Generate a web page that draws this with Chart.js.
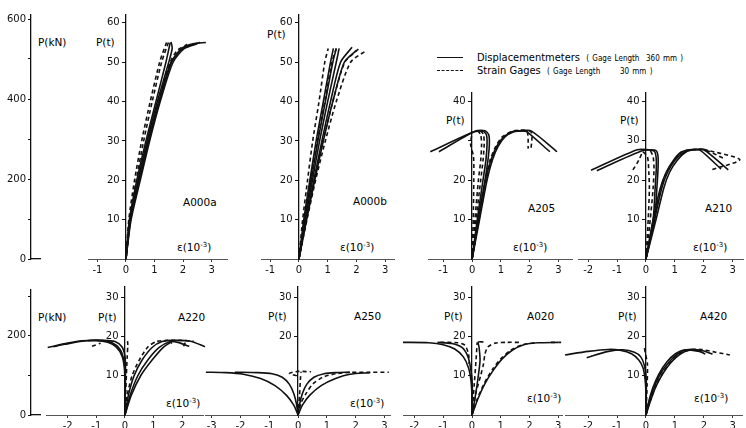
<!DOCTYPE html>
<html>
<head>
<meta charset="utf-8">
<script src="https://cdn.jsdelivr.net/npm/chart.js@4.4.0/dist/chart.umd.min.js"></script>
<style>
  body { margin: 0; background: #fff; }
  #page { position: relative; width: 746px; height: 428px; overflow: hidden; font-family: "DejaVu Sans", sans-serif; color: #000; }
  #page canvas { position: absolute; left: 0; top: 0; }
  .t { position: absolute; font-size: 10.5px; line-height: 1; white-space: nowrap; }
  .t sup { font-size: 7px; vertical-align: 4px; }
  .lg { position: absolute; font-family: "DejaVu Sans Condensed", "DejaVu Sans", sans-serif; font-size: 11px; line-height: 1; white-space: nowrap; }
  .lg small { font-size: 8px; word-spacing: 1px; }
  .key { position: absolute; width: 26px; height: 0; border-top: 1.5px solid #111; }
  .key.dash { border-top-style: dashed; }
</style>
</head>
<body>
<div id="page">
  <div class="key" style="left:437px;top:57px"></div>
  <div class="lg" style="left:477px;top:52px">Displacementmeters &nbsp;<small>( Gage Length &nbsp;360 mm )</small></div>
  <div class="key dash" style="left:437px;top:70px"></div>
  <div class="lg" style="left:477px;top:65px">Strain Gages &nbsp;<small>( Gage Length &nbsp;&nbsp;&nbsp;&nbsp; 30 mm )</small></div>

  <div class="t" style="left:38px;top:37px">P(kN)</div>
  <div class="t" style="left:96px;top:37px">P(t)</div>
  <div class="t" style="left:183px;top:197px">A000a</div>
  <div class="t" style="left:177px;top:242px">ε(10<sup>-3</sup>)</div>

  <div class="t" style="left:267px;top:29px">P(t)</div>
  <div class="t" style="left:353px;top:196px">A000b</div>
  <div class="t" style="left:340px;top:242px">ε(10<sup>-3</sup>)</div>

  <div class="t" style="left:446px;top:115px">P(t)</div>
  <div class="t" style="left:528px;top:203px">A205</div>
  <div class="t" style="left:513px;top:242px">ε(10<sup>-3</sup>)</div>

  <div class="t" style="left:620px;top:115px">P(t)</div>
  <div class="t" style="left:705px;top:203px">A210</div>
  <div class="t" style="left:693px;top:242px">ε(10<sup>-3</sup>)</div>

  <div class="t" style="left:38px;top:312px">P(kN)</div>
  <div class="t" style="left:98px;top:312px">P(t)</div>
  <div class="t" style="left:178px;top:312px">A220</div>
  <div class="t" style="left:166px;top:398px">ε(10<sup>-3</sup>)</div>

  <div class="t" style="left:268px;top:311px">P(t)</div>
  <div class="t" style="left:354px;top:311px">A250</div>
  <div class="t" style="left:350px;top:398px">ε(10<sup>-3</sup>)</div>

  <div class="t" style="left:444px;top:311px">P(t)</div>
  <div class="t" style="left:527px;top:311px">A020</div>
  <div class="t" style="left:527px;top:393px">ε(10<sup>-3</sup>)</div>

  <div class="t" style="left:618px;top:311px">P(t)</div>
  <div class="t" style="left:700px;top:311px">A420</div>
  <div class="t" style="left:694px;top:393px">ε(10<sup>-3</sup>)</div>
</div>

<script>
// P(t) vs strain (10^-3). Each curve is a list of [strain, load] points.
// Solid = displacement meters, dashed = strain gages.

const A000A_DISP = [
  [[0,0],[0.12,10],[0.38,20],[0.7,30],[1.05,40],[1.4,50],[1.55,55]],
  [[0,0],[0.15,10],[0.45,20],[0.78,30],[1.15,40],[1.58,50],[1.95,53.5],[2.35,54.7],[2.8,55]],
  [[0,0],[0.18,10],[0.5,20],[0.83,30],[1.2,40],[1.65,50],[2.05,53.5],[2.5,54.7]],
  [[0,0],[0.14,10],[0.42,20],[0.74,30],[1.1,40],[1.5,50],[1.62,53.5],[1.58,55.2]],
  [[0,0],[0.16,10],[0.47,20],[0.8,30],[1.17,40],[1.6,50],[2.0,53.6],[2.6,55]],
];
const A000A_GAGE = [
  [[0,0],[0.1,10],[0.3,20],[0.55,30],[0.85,40],[1.18,50],[1.42,55]],
  [[0,0],[0.14,10],[0.36,20],[0.62,30],[0.92,40],[1.25,50],[1.5,55.3]],
  [[0,0],[0.16,10],[0.46,20],[0.8,30],[1.15,40],[1.55,50],[1.8,53],[2.15,54.5]],
];

const A000B_DISP = [
  [[0,0],[0.17,10],[0.38,20],[0.6,30],[0.85,40],[1.1,50],[1.2,53.5]],
  [[0,0],[0.2,10],[0.43,20],[0.66,30],[0.92,40],[1.18,50],[1.3,53.5]],
  [[0,0],[0.22,10],[0.47,20],[0.72,30],[1.0,40],[1.3,50],[1.4,53.5]],
  [[0,0],[0.25,10],[0.52,20],[0.8,30],[1.1,40],[1.45,50],[1.85,53.8]],
  [[0,0],[0.27,10],[0.55,20],[0.85,30],[1.18,40],[1.58,50],[2.0,53]],
];
const A000B_GAGE = [
  [[0,0],[0.13,10],[0.3,20],[0.48,30],[0.7,40],[0.9,50],[1.02,53.5]],
  [[0,0],[0.19,10],[0.41,20],[0.64,30],[0.9,40],[1.15,50],[1.3,53.5]],
  [[0,0],[0.25,10],[0.53,20],[0.84,30],[1.18,40],[1.6,50],[2.1,53.5]],
  [[0,0],[0.28,10],[0.58,20],[0.92,30],[1.3,40],[1.8,50],[2.35,53]],
];

const A205_DISP = [
  [[0,0],[0.22,10],[0.47,20],[0.65,25],[0.85,28.5],[1.1,31],[1.4,32.3],[1.7,32.5],[2.05,32.5],[2.95,27.2]],
  [[0,0],[0.26,10],[0.52,20],[0.7,25],[0.9,28.5],[1.15,31],[1.45,32.3],[1.75,32.5],[1.9,32.3],[2.7,27.2]],
  [[0,0],[0.22,10],[0.45,20],[0.55,25],[0.6,29],[0.58,31.5],[0.45,32.5],[0.15,32.5],[-1.45,27.2]],
  [[0,0],[0.18,10],[0.38,20],[0.48,25],[0.52,29],[0.5,31.5],[0.38,32.4],[0.05,32.2],[-1.15,27.2]],
];
const A205_GAGE = [
  [[0,0],[0.2,10],[0.46,20],[0.62,25],[0.82,28.5],[1.05,31],[1.45,32.5],[1.9,32.4],[1.95,28]],
  [[0,0],[0.24,10],[0.5,20],[0.68,25],[0.88,28.5],[1.12,31],[1.5,32.5],[2.05,32.2],[2.05,28]],
  [[0,0],[0.1,10],[0.22,20],[0.3,25],[0.33,29],[0.3,31.5],[0.2,32.5]],
  [[0,0],[0.14,10],[0.3,20],[0.38,25],[0.42,29],[0.4,31.5],[0.3,32.5]],
  [[0,0],[0.04,10],[0.06,20],[0.05,26],[-0.05,29],[0,32]],
];

const A210_DISP = [
  [[0,0],[0.3,10],[0.55,18],[0.75,22],[1.0,25],[1.3,27],[1.6,27.7],[2.0,27.7],[2.85,22.6]],
  [[0,0],[0.35,10],[0.62,18],[0.82,22],[1.08,25],[1.4,27.2],[1.7,27.7],[1.9,27.5],[2.6,22.8]],
  [[0,0],[0.25,10],[0.5,18],[0.7,22],[0.95,25],[1.2,27],[1.5,27.7],[1.75,27.7]],
  [[0,0],[0.3,10],[0.38,18],[0.42,23],[0.42,26],[0.35,27.5],[0.1,27.7],[-0.3,27.7],[-1.9,22.5]],
  [[0,0],[0.25,10],[0.32,18],[0.36,23],[0.35,26],[0.28,27.4],[-0.1,27.5],[-1.7,22.4]],
];
const A210_GAGE = [
  [[2.0,27.8],[3.25,25.2],[2.25,22.6]],
  [[0,0],[0.28,10],[0.52,18],[0.72,22],[0.98,25],[1.25,27.2],[1.6,27.8],[2.0,27.8],[2.7,25.5]],
  [[0,0],[0.08,10],[0.12,18],[0.1,22],[0.05,26],[-0.15,27.5]],
  [[-0.45,22.6],[-0.25,25],[-0.1,27.5]],
  [[0,0],[0.15,10],[0.25,18],[0.28,23],[0.25,26],[0.15,27.5]],
];

const A220_DISP = [
  [[0,0],[0,8],[-0.02,12],[-0.1,15],[-0.3,17.3],[-0.6,18.5],[-1.0,19],[-1.5,18.9],[-2.0,18.3],[-2.7,17.2]],
  [[0,0],[0.01,10],[-0.04,14],[-0.18,16.8],[-0.45,18.4],[-0.9,19],[-1.5,18.8],[-2.1,18],[-2.5,17.4]],
  [[0,0],[0.02,12],[0,15],[-0.1,17.3],[-0.35,18.7],[-0.8,19],[-1.3,18.9]],
  [[0,0],[0.12,5],[0.32,10],[0.6,14],[0.95,17.2],[1.3,18.7],[1.7,19],[2.3,18.8],[2.8,17.4]],
  [[0,0],[0.18,5],[0.45,10],[0.8,14],[1.2,17.2],[1.6,18.7],[1.85,18.5],[2.25,17.5]],
  [[0,0],[0.22,5],[0.55,10],[0.95,14],[1.35,17.3],[1.6,18.5]],
];
const A220_GAGE = [
  [[0,0],[0.08,5],[0.25,10],[0.5,14],[0.8,17.3],[1.1,18.7],[1.5,19],[2.0,19],[2.4,18.8]],
  [[0,0],[0.05,10],[0.08,15],[0.1,18],[0.08,19.5]],
  [[-1.15,17.5],[-0.85,18.3]],
  [[1.55,19],[1.7,17.8]],
  [[2.05,17.5],[2.12,18.6]],
];

const A250_DISP = [
  [[0,0],[-0.15,2.5],[-0.4,5],[-0.8,7.5],[-1.3,9.3],[-1.9,10.4],[-2.5,10.8],[-3.2,10.9]],
  [[0,0],[-0.06,3],[-0.15,5.5],[-0.3,7.8],[-0.55,9.6],[-0.9,10.5],[-1.4,10.8],[-2.2,10.9]],
  [[0,0],[0.15,2.5],[0.4,5],[0.8,7.5],[1.3,9.3],[1.8,10.4],[2.5,10.8]],
  [[0,0],[0.06,3],[0.15,5.5],[0.3,7.8],[0.55,9.6],[0.9,10.5],[1.3,10.8],[1.8,10.9]],
];
const A250_GAGE = [
  [[0,0],[0.1,3],[0.28,5.5],[0.5,7.8],[0.85,9.6],[1.3,10.5],[1.8,10.85],[2.5,10.9],[3.15,10.9]],
  [[-0.05,10],[-0.3,10.6],[0,11.1],[0.45,11]],
  [[0,0],[0.05,5],[0.08,9],[0.1,11]],
];

const A020_DISP = [
  [[0,0],[0,5],[-0.04,9],[-0.12,12],[-0.3,14.8],[-0.6,16.8],[-1.0,17.9],[-1.5,18.4],[-2.4,18.5]],
  [[0,0],[0.01,8],[-0.05,12],[-0.15,15],[-0.35,17.2],[-0.7,18.2],[-1.2,18.5]],
  [[0,0],[0.2,4],[0.45,8],[0.75,11.5],[1.05,14.3],[1.4,16.5],[1.8,17.9],[2.3,18.4],[3.0,18.5]],
  [[0,0],[0.12,5],[0.22,10],[0.28,14],[0.25,17],[0.22,18.6],[0.4,18.6]],
];
const A020_GAGE = [
  [[0,0],[0.18,4],[0.42,8],[0.7,11.5],[1.0,14.3],[1.35,16.5],[1.75,17.9],[2.2,18.4]],
  [[0,0],[0.15,6],[0.3,10],[0.4,13],[0.45,15.5],[0.55,17.3],[0.8,18.3],[1.2,18.5],[1.7,18.5]],
  [[2.75,18.5],[3.1,18.5]],
  [[-1.1,18.5],[-0.5,18.4],[-0.25,17.8],[-0.12,15.5],[-0.1,13]],
  [[0,0],[0.08,8],[0.14,14],[0.18,18.5]],
];

const A420_DISP = [
  [[0,0],[0,5],[-0.03,9],[-0.1,12],[-0.25,14],[-0.5,15.6],[-0.9,16.5],[-1.3,16.7],[-2.0,16.2],[-2.8,15.3]],
  [[0,0],[0.01,9],[-0.05,12.5],[-0.18,14.8],[-0.4,16],[-0.8,16.6],[-1.3,16.2],[-2.05,14.6]],
  [[0,0],[0.1,3],[0.28,7],[0.5,10.5],[0.8,13.5],[1.1,15.6],[1.4,16.6],[1.7,16.7],[2.0,16.3],[2.3,15.5]],
  [[0,0],[0.13,3],[0.33,7],[0.58,10.5],[0.88,13.5],[1.2,15.6],[1.5,16.5],[1.8,16.4],[2.05,15.5]],
  [[0,0],[0.08,3],[0.24,7],[0.45,10.5],[0.72,13.5],[1.02,15.6],[1.35,16.6],[1.9,16.1]],
];
const A420_GAGE = [
  [[0,0],[0.12,3],[0.32,7],[0.56,10.5],[0.86,13.5],[1.18,15.6],[1.5,16.6],[1.9,16.7],[2.4,16],[2.9,15.3]],
  [[0,0],[0.04,8],[0.05,13],[-0.03,16],[-0.06,17.5]],
];

// tick values
const STRAIN_TICKS_1 = [-1, 0, 1, 2, 3];
const STRAIN_TICKS_2 = [-2, -1, 0, 1, 2, 3];
const STRAIN_TICKS_A220 = [-2, -1, 0, 1, 2];
const STRAIN_TICKS_A250 = [-3, -2, -1, 0, 1, 2, 3];
const P_TICKS_60 = [10, 20, 30, 40, 50, 60];
const P_TICKS_40 = [10, 20, 30, 40];
const P_TICKS_30 = [10, 20, 30];
const KN_TICKS_TOP = [0, 100, 200, 300, 400, 500, 600];
const KN_TICKS_BOTTOM = [0, 100, 200, 300];
const KN_LABELS = [0, 200, 400, 600];

const W = 746, H = 428;
const INK = "#111";
const tickFont = { family: "DejaVu Sans", size: 10 };
const X_AXIS_H = 16;   // room kept under each strain axis for its labels
const KN_AXIS_W = 30;  // room kept left of the kN axis for its labels

function curveSets(curves, dashed) {
  return curves.map((c) => ({
    data: c.map(([x, y]) => ({ x, y })),
    borderColor: INK,
    borderWidth: 1.6,
    borderDash: dashed ? [4, 3] : [],
    pointRadius: 0,
    tension: 0.25,
    fill: false,
    clip: false,
  }));
}

function makeCanvas() {
  const c = document.createElement("canvas");
  c.width = W;
  c.height = H;
  document.getElementById("page").appendChild(c);
  return c;
}

function fixedTicks(values) {
  return (scale) => { scale.ticks = values.map((v) => ({ value: v })); };
}

function panel(p) {
  new Chart(makeCanvas(), {
    type: "line",
    data: { datasets: [...curveSets(p.disp, false), ...curveSets(p.gage, true)] },
    options: {
      responsive: false,
      animation: false,
      events: [],
      layout: { padding: { left: p.box[0], right: W - p.box[1], top: p.box[2], bottom: H - p.box[3] - X_AXIS_H } },
      plugins: { legend: { display: false }, tooltip: { enabled: false } },
      scales: {
        x: {
          type: "linear",
          position: "bottom",
          min: p.xRange[0],
          max: p.xRange[1],
          afterFit: (s) => { s.height = X_AXIS_H; },
          afterBuildTicks: fixedTicks(p.xTicks),
          grid: { drawOnChartArea: false, tickLength: 3, color: "#333" },
          border: { color: "#555", width: 1 },
          ticks: { color: INK, font: tickFont, padding: 2, maxRotation: 0, autoSkip: false, callback: (v) => String(v) },
        },
        y: {
          type: "linear",
          position: { x: 0 },
          min: 0,
          max: p.yMax,
          afterFit: (s) => { s.width = 0; },
          afterBuildTicks: fixedTicks(p.yTicks),
          grid: { drawOnChartArea: false, tickLength: 3, color: INK },
          border: { color: INK, width: 1.3 },
          ticks: {
            color: INK, font: tickFont, autoSkip: false,
            // labels sit right-aligned on the axis line, so pad them off it
            callback: (v) => (p.hide && p.hide.includes(v) ? "" : v + "  "),
          },
        },
      },
    },
  });
}

function kNAxis(box, yMax, ticks) {
  new Chart(makeCanvas(), {
    type: "line",
    data: { datasets: [] },
    options: {
      responsive: false,
      animation: false,
      events: [],
      layout: { padding: { left: box[0] - KN_AXIS_W, right: W - box[1], top: box[2], bottom: H - box[3] } },
      plugins: { legend: { display: false }, tooltip: { enabled: false } },
      scales: {
        x: {
          type: "linear", position: "bottom", min: 0, max: 1,
          afterFit: (s) => { s.height = 0; },
          afterBuildTicks: fixedTicks([]),
          grid: { display: false },
          border: { color: INK, width: 1.3 },
        },
        y: {
          type: "linear", position: "left", min: 0, max: yMax,
          afterFit: (s) => { s.width = KN_AXIS_W; },
          afterBuildTicks: fixedTicks(ticks),
          grid: { drawOnChartArea: false, tickLength: 3, color: INK },
          border: { color: INK, width: 1.3 },
          ticks: { color: INK, font: tickFont, padding: 2, autoSkip: false,
                   callback: (v) => (KN_LABELS.includes(v) ? String(v) : "") },
        },
      },
    },
  });
}

kNAxis([31, 40, 15, 259], 610, KN_TICKS_TOP);
kNAxis([31, 40, 290, 415], 316, KN_TICKS_BOTTOM);

panel({ box: [88, 227, 15, 259], xRange: [-1.33, 3.54], yMax: 62, xTicks: STRAIN_TICKS_1, yTicks: P_TICKS_60, disp: A000A_DISP, gage: A000A_GAGE });
panel({ box: [261, 394, 15, 259], xRange: [-1.32, 3.31], yMax: 62, xTicks: STRAIN_TICKS_1, yTicks: P_TICKS_60, disp: A000B_DISP, gage: A000B_GAGE });
panel({ box: [428, 572, 93, 259], xRange: [-1.53, 3.47], yMax: 42.1, xTicks: STRAIN_TICKS_1, yTicks: P_TICKS_40, hide: [30], disp: A205_DISP, gage: A205_GAGE });
panel({ box: [578, 743, 93, 259], xRange: [-2.35, 3.36], yMax: 42.1, xTicks: STRAIN_TICKS_2, yTicks: P_TICKS_40, disp: A210_DISP, gage: A210_GAGE });

panel({ box: [46, 203, 287, 415], xRange: [-2.76, 2.73], yMax: 32.6, xTicks: STRAIN_TICKS_A220, yTicks: P_TICKS_30, disp: A220_DISP, gage: A220_GAGE });
panel({ box: [205, 390, 287, 415], xRange: [-3.23, 3.19], yMax: 32.6, xTicks: STRAIN_TICKS_A250, yTicks: P_TICKS_30, hide: [10], disp: A250_DISP, gage: A250_GAGE });
panel({ box: [403, 562, 287, 415], xRange: [-2.4, 3.13], yMax: 32.6, xTicks: STRAIN_TICKS_2, yTicks: P_TICKS_30, disp: A020_DISP, gage: A020_GAGE });
panel({ box: [565, 742, 287, 415], xRange: [-2.8, 3.32], yMax: 32.6, xTicks: STRAIN_TICKS_2, yTicks: P_TICKS_30, disp: A420_DISP, gage: A420_GAGE });
</script>
</body>
</html>
